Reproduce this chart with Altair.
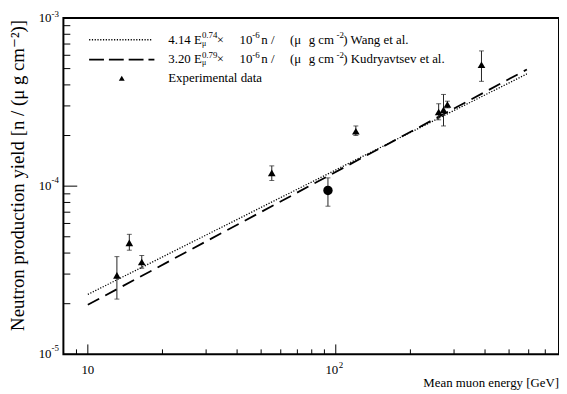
import altair as alt
import pandas as pd

# ---------------- data ----------------
tri_energy = [13.1, 14.7, 16.5, 55.2, 120.5, 260, 272, 282, 387]
tri_yield = [2.95e-5, 4.60e-5, 3.54e-5, 1.20e-4, 2.12e-4, 2.76e-4, 2.84e-4, 3.06e-4, 5.27e-4]
tri_low = [2.13e-5, 4.16e-5, 3.25e-5, 1.08e-4, 2.00e-4, 2.48e-4, 2.28e-4, 2.92e-4, 4.20e-4]
tri_high = [3.81e-5, 5.17e-5, 3.87e-5, 1.32e-4, 2.28e-4, 3.09e-4, 3.51e-4, 3.20e-4, 6.37e-4]

circ_energy = [93.0]
circ_yield = [9.43e-5]
circ_low = [7.6e-5]
circ_high = [1.12e-4]

wang_energy = [10, 590]
wang_yield = [2.27e-5, 4.65e-4]
kud_energy = [10, 590]
kud_yield = [1.97e-5, 4.94e-4]

x_major = [10, 100]
x_minor = [9, 20, 30, 40, 50, 60, 70, 80, 90, 200, 300, 400, 500, 600, 700]
y_major = [1e-5, 1e-4, 1e-3]
y_minor = [2e-5, 3e-5, 4e-5, 5e-5, 6e-5, 7e-5, 8e-5, 9e-5,
           2e-4, 3e-4, 4e-4, 5e-4, 6e-4, 7e-4, 8e-4, 9e-4]

FONT = "Liberation Serif, 'Times New Roman', 'DejaVu Serif', serif"
W, H = 501, 340

xscale = alt.Scale(type="log", domain=[7.97, 795], nice=False)
yscale = alt.Scale(type="log", domain=[1e-5, 1e-3], nice=False)


def X(f):
    return alt.X(f, type="quantitative", scale=xscale, axis=None)


def Y(f):
    return alt.Y(f, type="quantitative", scale=yscale, axis=None)


def txt(s, x, y, size=13, align="left", angle=0, baseline="middle"):
    return alt.Chart(pd.DataFrame({"t": [s]})).mark_text(
        font=FONT, fontSize=size, align=align, baseline=baseline, angle=angle, color="black"
    ).encode(x=alt.value(x), y=alt.value(y), text="t:N")


layers = []

# fit lines
wang_df = pd.DataFrame({"E": wang_energy, "Y": wang_yield})
kud_df = pd.DataFrame({"E": kud_energy, "Y": kud_yield})
layers.append(alt.Chart(wang_df).mark_line(color="black", strokeWidth=1.3, strokeDash=[1.2, 1.6]).encode(x=X("E"), y=Y("Y")))
layers.append(alt.Chart(kud_df).mark_line(color="black", strokeWidth=1.8, strokeDash=[13, 7]).encode(x=X("E"), y=Y("Y")))

# error bars
tri_df = pd.DataFrame({"E": tri_energy, "Y": tri_yield, "lo": tri_low, "hi": tri_high})
circ_df = pd.DataFrame({"E": circ_energy, "Y": circ_yield, "lo": circ_low, "hi": circ_high})
for df in (tri_df, circ_df):
    layers.append(alt.Chart(df).mark_rule(color="#222", strokeWidth=1).encode(x=X("E"), y=Y("lo"), y2="hi"))
    layers.append(alt.Chart(df).mark_tick(color="#222", orient="horizontal", size=5, thickness=1).encode(x=X("E"), y=Y("lo")))
    layers.append(alt.Chart(df).mark_tick(color="#222", orient="horizontal", size=5, thickness=1).encode(x=X("E"), y=Y("hi")))

layers.append(alt.Chart(tri_df).mark_point(shape="triangle-up", filled=True, color="black", size=60, opacity=1).encode(x=X("E"), y=Y("Y")))
layers.append(alt.Chart(circ_df).mark_point(shape="circle", filled=True, color="black", size=90, opacity=1).encode(x=X("E"), y=Y("Y")))

# inner ticks
layers.append(alt.Chart(pd.DataFrame({"v": y_major})).mark_rule(color="black", strokeWidth=1).encode(y=Y("v"), x=alt.value(0), x2=alt.value(14)))
layers.append(alt.Chart(pd.DataFrame({"v": y_minor})).mark_rule(color="black", strokeWidth=1).encode(y=Y("v"), x=alt.value(0), x2=alt.value(7)))
layers.append(alt.Chart(pd.DataFrame({"v": x_major})).mark_rule(color="black", strokeWidth=1).encode(x=X("v"), y=alt.value(H), y2=alt.value(H - 10)))
layers.append(alt.Chart(pd.DataFrame({"v": x_minor})).mark_rule(color="black", strokeWidth=1).encode(x=X("v"), y=alt.value(H), y2=alt.value(H - 5)))

# y tick labels
ylab_df = pd.DataFrame({"v": y_major, "sup": ["-5", "-4", "-3"], "base": ["10", "10", "10"]})
for i in range(3):
    sub = ylab_df.iloc[[i]]
    dy = 0
    sdy = -4 if i == 2 else -6
    layers.append(alt.Chart(sub).mark_text(font=FONT, fontSize=13, align="right", baseline="middle", dx=-12, dy=dy, color="black").encode(y=Y("v"), x=alt.value(0), text="base:N"))
    layers.append(alt.Chart(sub).mark_text(font=FONT, fontSize=9, align="left", baseline="middle", dx=-12, dy=sdy, color="black").encode(y=Y("v"), x=alt.value(0), text="sup:N"))

# x tick labels
layers.append(alt.Chart(pd.DataFrame({"v": [10], "t": ["10"]})).mark_text(font=FONT, fontSize=13, align="center", baseline="middle", color="black").encode(x=X("v"), y=alt.value(H + 16), text="t:N"))
layers.append(alt.Chart(pd.DataFrame({"v": [100], "t": ["10"]})).mark_text(font=FONT, fontSize=13, align="center", baseline="middle", dx=-4, color="black").encode(x=X("v"), y=alt.value(H + 16), text="t:N"))
layers.append(alt.Chart(pd.DataFrame({"v": [100], "t": ["2"]})).mark_text(font=FONT, fontSize=9, align="left", baseline="middle", dx=3, color="black").encode(x=X("v"), y=alt.value(H + 11), text="t:N"))

# axis titles
layers.append(txt("Mean muon energy [GeV]", W, H + 33, align="right", baseline="alphabetic"))
layers.append(txt("Neutron production yield [n / (\u03bc  g cm\u207b\u00b2)]", -46, 2, size=19, align="right", angle=270))

# legend
LY = [22, 42, 61]
one = pd.DataFrame({"a": [0]})
layers.append(alt.Chart(one).mark_rule(color="black", strokeWidth=1.3, strokeDash=[1.2, 1.6]).encode(x=alt.value(26), x2=alt.value(89), y=alt.value(LY[0])))
layers.append(alt.Chart(one).mark_rule(color="black", strokeWidth=1.8, strokeDash=[15, 5]).encode(x=alt.value(26), x2=alt.value(92), y=alt.value(LY[1])))
layers.append(alt.Chart(one).mark_point(shape="triangle-up", filled=True, color="black", size=35, opacity=1).encode(x=alt.value(59), y=alt.value(LY[2])))

for row, (coef, expo, name) in enumerate([("4.14", "0.74", ") Wang et al."), ("3.20", "0.79", ") Kudryavtsev et al.")]):
    y = LY[row]
    layers.append(txt(coef + " E", 106, y))
    layers.append(txt("\u03bc", 140, y + 4, size=8))
    layers.append(txt(expo, 140, y - 5, size=9))
    layers.append(txt("\u00d7", 155, y))
    layers.append(txt("10", 178, y))
    layers.append(txt("-6", 191, y - 5, size=9))
    layers.append(txt("n /", 200, y))
    layers.append(txt("(\u03bc", 229, y))
    layers.append(txt("g cm", 248, y))
    layers.append(txt("-2", 276, y - 5, size=9))
    layers.append(txt(name, 283, y))
layers.append(txt("Experimental data", 106, LY[2]))

chart = alt.layer(*layers).properties(
    width=W, height=H,
    autosize=alt.AutoSizeParams(type="none"),
    padding={"left": 56, "top": 8, "right": 0, "bottom": 36},
    background="white",
).configure_view(stroke="black", strokeWidth=2)

chart.save("out.html", embed_options={"renderer": "svg", "actions": False})
